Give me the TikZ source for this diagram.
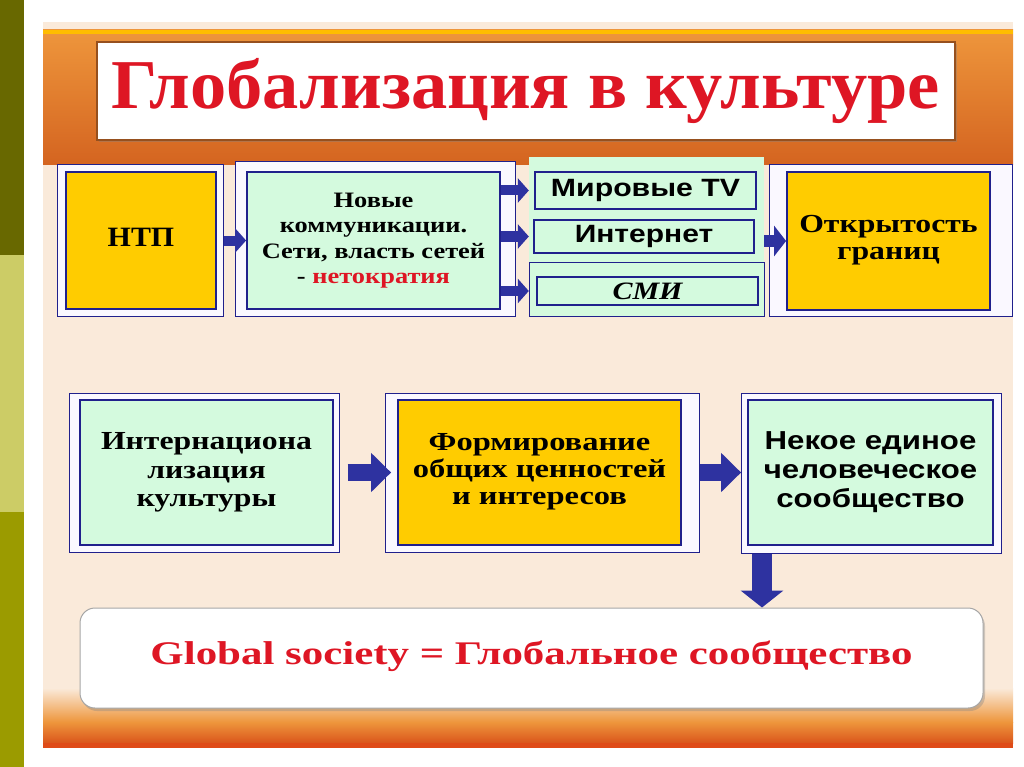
\documentclass[tikz,border=0pt]{standalone}
\usepackage{fontspec}
\usepackage{graphicx}
\setmainfont{Liberation Serif}
\newfontfamily\arialf{Liberation Sans}
\usetikzlibrary{arrows.meta,shadows}
\definecolor{gold}{RGB}{255,204,0}
\definecolor{mint}{RGB}{212,250,222}
\definecolor{navy}{RGB}{32,32,140}
\definecolor{arrowblue}{RGB}{46,50,160}
\definecolor{titlered}{RGB}{222,22,36}
\definecolor{beige}{RGB}{250,234,218}
\definecolor{oliveA}{RGB}{104,104,0}
\definecolor{oliveB}{RGB}{204,204,102}
\definecolor{oliveC}{RGB}{155,155,0}
\definecolor{orangeA}{RGB}{212,100,32}
\definecolor{orangeB}{RGB}{238,150,60}
\definecolor{boxedge}{RGB}{150,80,30}
\definecolor{pale}{RGB}{250,248,255}
\newcommand\sx[2][1.15]{\scalebox{#1}[1]{\begin{tabular}{@{}c@{}}#2\end{tabular}}}
\begin{document}
\begin{tikzpicture}[x=1pt,y=-1pt,
  outerbox/.style={draw=navy, line width=1pt, fill=pale, inner sep=0pt},
  innerbox/.style={draw=navy, line width=1.8pt, inner sep=0pt, align=center},
  goldbox/.style={innerbox, fill=gold},
  mintbox/.style={innerbox, fill=mint},
  mediabox/.style={draw=navy, line width=1.4pt, fill=mint, inner sep=0pt},
  smallarr/.style={draw=arrowblue, line width=10pt, -{Triangle[length=11pt,width=24pt]}},
  bigarr/.style={draw=arrowblue, line width=17pt, -{Triangle[length=20pt,width=38pt]}},
  downarr/.style={draw=arrowblue, line width=20pt, -{Triangle[length=17pt,width=42pt]}},
]
\useasboundingbox (0,0) rectangle (1024,767);
\fill[white] (0,0) rectangle (1024,767);
% left strip
\fill[oliveA] (0,0) rectangle (24,255);
\fill[oliveB] (0,255) rectangle (24,512);
\fill[oliveC] (0,512) rectangle (24,767);
% slide background
\fill[beige] (43,22) rectangle (1013,748);
\shade[top color=orangeB, bottom color=orangeA] (43,30) rectangle (1013,165);
\fill[gold!80!orange] (43,30) rectangle (1013,34);
\shade[top color=beige, bottom color=orangeB] (43,688) rectangle (1013,722);
\shade[top color=orangeB, bottom color=orangeA!85!red] (43,722) rectangle (1013,743);
\fill[orangeA!75!red] (43,743) rectangle (1013,748);
% title
\node[draw=boxedge, line width=1.2pt, fill=white, minimum width=858pt, minimum height=98pt, inner sep=0pt,
  drop shadow={shadow xshift=2pt, shadow yshift=-2pt, opacity=0.4}] (title) at (526,91)
  {\textcolor{titlered}{\fontsize{70}{70}\selectfont\bfseries\scalebox{1.035}[1]{Глобализация в культуре}}};
% row 1
\node[outerbox, minimum width=166pt, minimum height=151pt] (ntpO) at (140,240.5) {};
\node[goldbox, minimum width=150pt, minimum height=137pt] (ntpI) at (141,240.5)
  {\fontsize{28}{28}\selectfont\bfseries\sx[1.07]{НТП}};
\node[outerbox, minimum width=280pt, minimum height=154pt] (novO) at (375,239) {};
\node[mintbox, minimum width=253pt, minimum height=137pt] (novI) at (373.5,240.5)
  {\fontsize{22}{25.5}\selectfont\bfseries\sx[1.2]{Новые\\коммуникации.\\Сети, власть сетей\\- \textcolor{titlered}{нетократия}}};
\node[fill=mint, minimum width=235pt, minimum height=159pt, inner sep=0pt] (mediabg) at (646.5,236.5) {};
\node[mediabox, minimum width=221pt, minimum height=37pt] (tv) at (645.5,190.5)
  {\arialf\bfseries\fontsize{25}{25}\selectfont\scalebox{1.21}[1]{Мировые TV}};
\node[mediabox, minimum width=220pt, minimum height=33pt] (inet) at (644,236.5)
  {\arialf\bfseries\fontsize{25}{25}\selectfont\scalebox{1.2}[1]{Интернет}};
\node[mediabox, line width=1pt, minimum width=235pt, minimum height=54pt] (smiO) at (646.5,289) {};
\node[mediabox, minimum width=221pt, minimum height=28pt] (smiI) at (647.5,291)
  {\fontsize{25}{25}\selectfont\bfseries\itshape\scalebox{1.2}[1]{СМИ}};
\node[outerbox, minimum width=243pt, minimum height=151pt] (openO) at (890.5,240.5) {};
\node[goldbox, minimum width=203pt, minimum height=138pt] (openI) at (888.5,241)
  {\fontsize{26}{27}\selectfont\bfseries\sx[1.22]{Открытость\\границ}};
% row 2
\node[outerbox, minimum width=270pt, minimum height=159pt] (intO) at (204,472.5) {};
\node[mintbox, minimum width=253pt, minimum height=145pt] (intI) at (206.5,472.5)
  {\fontsize{26}{28.5}\selectfont\bfseries\sx[1.22]{Интернациона\\лизация\\культуры}};
\node[outerbox, minimum width=314pt, minimum height=159pt] (formO) at (542,472.5) {};
\node[goldbox, minimum width=283pt, minimum height=145pt] (formI) at (539.5,472.5)
  {\fontsize{26}{27}\selectfont\bfseries\sx[1.25]{Формирование\\общих ценностей\\и интересов}};
\node[outerbox, minimum width=260pt, minimum height=160pt] (nekO) at (871,473) {};
\node[mintbox, minimum width=245pt, minimum height=145pt] (nekI) at (870.5,472.5)
  {\arialf\bfseries\fontsize{26}{29}\selectfont\sx[1.2]{Некое единое\\человеческое\\сообщество}};
% bottom box
\node[draw=gray!70, line width=1pt, fill=white, rounded corners=15pt, minimum width=903pt, minimum height=100pt, inner sep=0pt,
  drop shadow={shadow xshift=2pt, shadow yshift=-3pt, opacity=0.35}] (glob) at (531.5,658)
  {\raisebox{10pt}{\textcolor{titlered}{\fontsize{33}{33}\selectfont\bfseries\scalebox{1.3}[1]{Global society = Глобальное сообщество}}}};
% connectors
\draw[smallarr] (ntpO.east) -- (novI.west);
\draw[smallarr] (novI.east |- tv.west) -- (mediabg.west |- tv.west);
\draw[smallarr] (novI.east |- inet.west) -- (mediabg.west |- inet.west);
\draw[smallarr] (novI.east |- smiI.west) -- (mediabg.west |- smiI.west);
\draw[smallarr, line width=12pt, -{Triangle[length=12pt,width=30pt]}] (mediabg.east |- openI.west) -- (openI.west);
\draw[bigarr, shorten <=8pt, shorten >=6pt] (intO.east) -- (formI.west);
\draw[bigarr, shorten >=6pt] (formO.east) -- (nekI.west);
\coordinate (dx) at (762,0);
\draw[downarr] (nekO.south -| dx) -- (glob.north -| dx);
\end{tikzpicture}
\end{document}
